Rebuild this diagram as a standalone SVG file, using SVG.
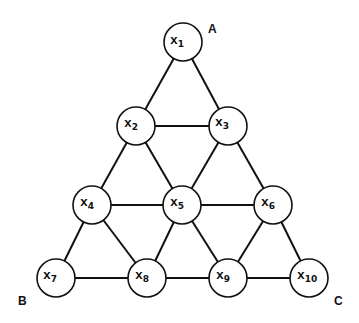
<svg xmlns="http://www.w3.org/2000/svg" width="359" height="323" viewBox="0 0 359 323">
<style>
.e{stroke:#111;stroke-width:2;fill:none}
.n circle{fill:#fff;stroke:#111;stroke-width:1.6}
.t{font-family:"Liberation Mono","DejaVu Sans Mono",monospace;font-size:13px;font-weight:bold;fill:#111}
.s{font-family:"DejaVu Sans","Liberation Sans",sans-serif;font-size:9px;font-weight:bold}
.c{font-family:"Liberation Sans",Arial,sans-serif;font-size:12px;font-weight:bold;fill:#111}
</style>
<rect width="359" height="323" fill="#fff"/>
<g id="edges">
<line class="e" x1="183" y1="42" x2="136" y2="126"/>
<line class="e" x1="183" y1="42" x2="228" y2="126"/>
<line class="e" x1="136" y1="126" x2="228" y2="126"/>
<line class="e" x1="136" y1="126" x2="92" y2="205"/>
<line class="e" x1="136" y1="126" x2="182" y2="205"/>
<line class="e" x1="228" y1="126" x2="182" y2="205"/>
<line class="e" x1="228" y1="126" x2="273" y2="205"/>
<line class="e" x1="92" y1="205" x2="273" y2="205"/>
<line class="e" x1="92" y1="205" x2="56" y2="278"/>
<line class="e" x1="92" y1="205" x2="147" y2="278"/>
<line class="e" x1="182" y1="205" x2="147" y2="278"/>
<line class="e" x1="182" y1="205" x2="228" y2="278"/>
<line class="e" x1="273" y1="205" x2="228" y2="278"/>
<line class="e" x1="273" y1="205" x2="309" y2="278"/>
<line class="e" x1="56" y1="278" x2="309" y2="278"/>
</g>
<g id="x1" class="n"><circle cx="183" cy="42" r="19"/><text class="t" x="170" y="44">x<tspan class="s" dy="3">1</tspan></text></g>
<g id="x2" class="n"><circle cx="136" cy="126" r="19"/><text class="t" x="124" y="127">x<tspan class="s" dy="3">2</tspan></text></g>
<g id="x3" class="n"><circle cx="228" cy="126" r="19"/><text class="t" x="215" y="126">x<tspan class="s" dy="3">3</tspan></text></g>
<g id="x4" class="n"><circle cx="92" cy="205" r="19"/><text class="t" x="80" y="206">x<tspan class="s" dy="3">4</tspan></text></g>
<g id="x5" class="n"><circle cx="182" cy="205" r="19"/><text class="t" x="170" y="206">x<tspan class="s" dy="3">5</tspan></text></g>
<g id="x6" class="n"><circle cx="273" cy="205" r="19"/><text class="t" x="261" y="206">x<tspan class="s" dy="3">6</tspan></text></g>
<g id="x7" class="n"><circle cx="56" cy="278" r="19"/><text class="t" x="43" y="279">x<tspan class="s" dy="3">7</tspan></text></g>
<g id="x8" class="n"><circle cx="147" cy="278" r="19"/><text class="t" x="135" y="279">x<tspan class="s" dy="3">8</tspan></text></g>
<g id="x9" class="n"><circle cx="228" cy="278" r="19"/><text class="t" x="216" y="279">x<tspan class="s" dy="3">9</tspan></text></g>
<g id="x10" class="n"><circle cx="309" cy="278" r="19"/><text class="t" x="297" y="279">x<tspan class="s" dy="3">10</tspan></text></g>
<g id="labels">
<text class="c" x="208" y="33">A</text>
<text class="c" x="18" y="305">B</text>
<text class="c" x="334" y="305">C</text>
</g>
</svg>
